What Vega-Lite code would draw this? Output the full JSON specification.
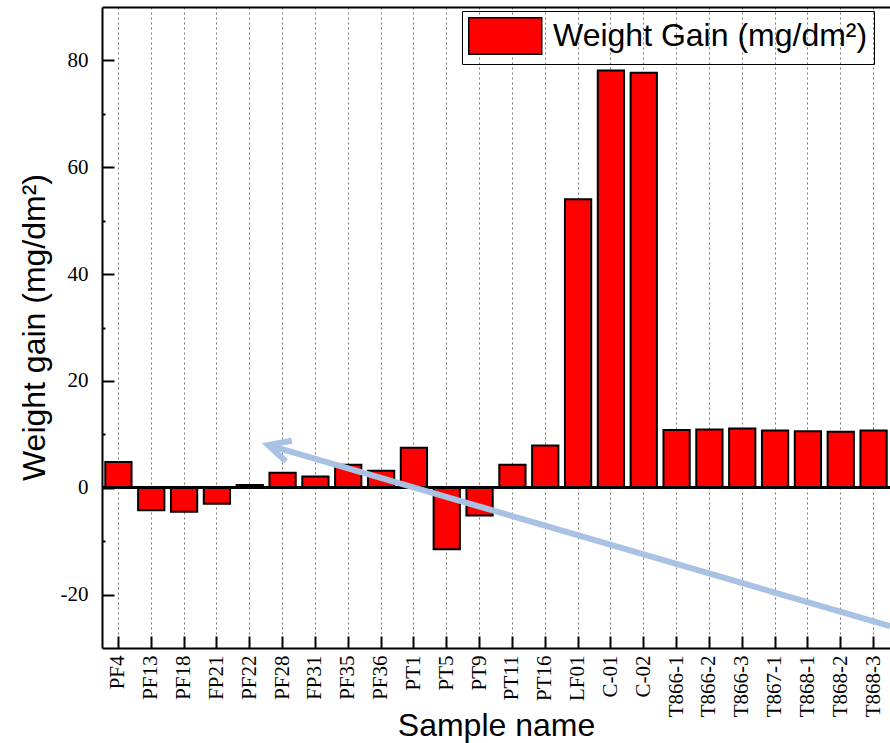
{
  "$schema": "https://vega.github.io/schema/vega-lite/v6.json",
  "width": 788,
  "height": 641,
  "autosize": {"type": "none"},
  "padding": {"left": 102, "top": 7, "right": 0, "bottom": 95},
  "background": "white",
  "config": {"view": {"stroke": null}},
  "layer": [
    {
      "data": {
        "values": [
          {"sample": "PF4", "gain": 4.8, "series": "Weight Gain (mg/dm²)"},
          {"sample": "PF13", "gain": -4.2, "series": "Weight Gain (mg/dm²)"},
          {"sample": "PF18", "gain": -4.5, "series": "Weight Gain (mg/dm²)"},
          {"sample": "FP21", "gain": -3.0, "series": "Weight Gain (mg/dm²)"},
          {"sample": "PF22", "gain": 0.5, "series": "Weight Gain (mg/dm²)"},
          {"sample": "PF28", "gain": 2.8, "series": "Weight Gain (mg/dm²)"},
          {"sample": "FP31", "gain": 2.1, "series": "Weight Gain (mg/dm²)"},
          {"sample": "PF35", "gain": 4.3, "series": "Weight Gain (mg/dm²)"},
          {"sample": "PF36", "gain": 3.2, "series": "Weight Gain (mg/dm²)"},
          {"sample": "PT1", "gain": 7.5, "series": "Weight Gain (mg/dm²)"},
          {"sample": "PT5", "gain": -11.5, "series": "Weight Gain (mg/dm²)"},
          {"sample": "PT9", "gain": -5.2, "series": "Weight Gain (mg/dm²)"},
          {"sample": "PT11", "gain": 4.3, "series": "Weight Gain (mg/dm²)"},
          {"sample": "PT16", "gain": 7.9, "series": "Weight Gain (mg/dm²)"},
          {"sample": "LF01", "gain": 54.0, "series": "Weight Gain (mg/dm²)"},
          {"sample": "C-01", "gain": 78.1, "series": "Weight Gain (mg/dm²)"},
          {"sample": "C-02", "gain": 77.7, "series": "Weight Gain (mg/dm²)"},
          {"sample": "T866-1", "gain": 10.8, "series": "Weight Gain (mg/dm²)"},
          {"sample": "T866-2", "gain": 10.9, "series": "Weight Gain (mg/dm²)"},
          {"sample": "T866-3", "gain": 11.1, "series": "Weight Gain (mg/dm²)"},
          {"sample": "T867-1", "gain": 10.7, "series": "Weight Gain (mg/dm²)"},
          {"sample": "T868-1", "gain": 10.6, "series": "Weight Gain (mg/dm²)"},
          {"sample": "T868-2", "gain": 10.5, "series": "Weight Gain (mg/dm²)"},
          {"sample": "T868-3", "gain": 10.7, "series": "Weight Gain (mg/dm²)"}
        ]
      },
      "layer": [
        {
          "mark": {"type": "bar", "stroke": "black", "strokeWidth": 2},
          "encoding": {
            "x": {
              "field": "sample",
              "type": "nominal",
              "sort": null,
              "scale": {"paddingInner": 0.2, "paddingOuter": 0.1},
              "axis": {
                "title": "Sample name",
                "titleFont": "Liberation Sans",
                "titleFontSize": 32,
                "titleFontWeight": "normal",
                "titleColor": "black",
                "titleY": 87,
                "titleBaseline": "alphabetic",
                "labelAngle": 270,
                "labelFont": "Liberation Serif",
                "labelFontSize": 21,
                "labelColor": "black",
                "labelPadding": 19,
                "tickSize": -12,
                "tickWidth": 2,
                "tickColor": "black",
                "bandPosition": 0.5,
                "grid": true,
                "gridDash": [2, 3],
                "gridColor": "#777777",
                "gridWidth": 1,
                "domainColor": "black",
                "domainWidth": 2
              }
            },
            "y": {
              "field": "gain",
              "type": "quantitative",
              "scale": {"domain": [-30, 90], "nice": false, "zero": false},
              "axis": {
                "title": "Weight gain (mg/dm²)",
                "titleFont": "Liberation Sans",
                "titleFontSize": 32,
                "titleFontWeight": "normal",
                "titleColor": "black",
                "titleX": -58,
                "titleY": 320,
                "titleBaseline": "alphabetic",
                "values": [-20, -10, 0, 10, 20, 30, 40, 50, 60, 70, 80],
                "labelExpr": "datum.value % 20 === 0 ? '' + datum.value : ''",
                "labelFont": "Liberation Serif",
                "labelFontSize": 21,
                "labelColor": "black",
                "labelPadding": 26,
                "tickSize": {"condition": {"test": "datum.value % 20 === 0", "value": -12}, "value": -3},
                "tickWidth": 2,
                "tickColor": "black",
                "grid": false,
                "domainColor": "black",
                "domainWidth": 2
              }
            },
            "color": {
              "field": "series",
              "type": "nominal",
              "scale": {"range": ["#ff0000"]},
              "legend": {
                "title": null,
                "orient": "none",
                "legendX": 360,
                "legendY": 4,
                "padding": 6,
                "strokeColor": "black",
                "symbolType": "M-1,-1L3,-1L3,1L-1,1Z",
                "symbolSize": 1332,
                "symbolStrokeColor": "black",
                "symbolStrokeWidth": 1.5,
                "symbolOpacity": 1,
                "labelFont": "Liberation Sans",
                "labelFontSize": 32,
                "labelColor": "black",
                "labelOffset": 47,
                "labelLimit": 0
              }
            }
          }
        },
        {
          "mark": {"type": "rule", "color": "black", "strokeWidth": 2},
          "encoding": {"y": {"datum": 0}}
        }
      ]
    },
    {
      "data": {"values": [{"ax": 24, "ay": -25.9, "bx": 5.06, "by": 8.0}]},
      "layer": [
        {
          "mark": {"type": "rule", "color": "#a9c1e3", "strokeWidth": 6},
          "encoding": {
            "x": {
              "field": "ax",
              "type": "quantitative",
              "scale": {"domain": [0, 24], "nice": false, "zero": false},
              "axis": {
                "orient": "top",
                "labels": false,
                "ticks": false,
                "grid": false,
                "title": null,
                "domainColor": "black",
                "domainWidth": 2
              }
            },
            "y": {"field": "ay", "type": "quantitative"},
            "x2": {"field": "bx"},
            "y2": {"field": "by"}
          }
        },
        {
          "mark": {
            "type": "point",
            "shape": "M1.1,-0.55L0,0L1.1,0.55",
            "filled": false,
            "stroke": "#a9c1e3",
            "strokeWidth": 6,
            "opacity": 1,
            "size": 1540,
            "angle": 16.2
          },
          "encoding": {
            "x": {"field": "bx", "type": "quantitative"},
            "y": {"field": "by", "type": "quantitative"}
          }
        }
      ]
    }
  ],
  "resolve": {"scale": {"x": "independent"}}
}
